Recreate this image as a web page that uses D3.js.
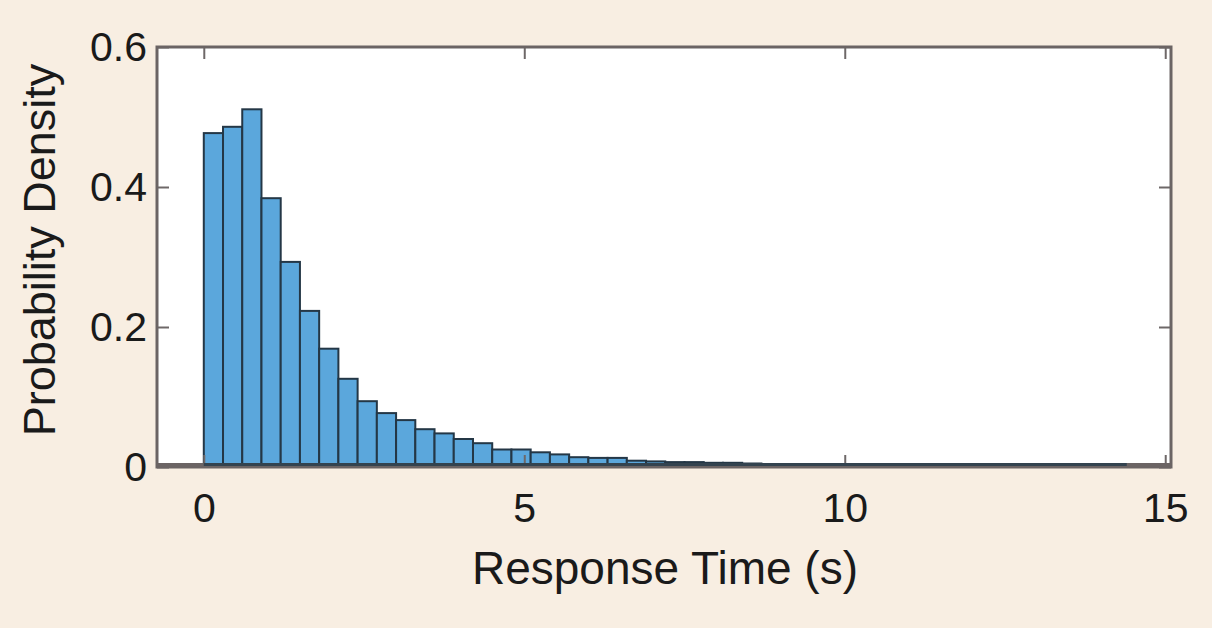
<!doctype html>
<html lang="en">
<head>
  <meta charset="UTF-8">
  <title>Response Time Histogram</title>
  <script src="https://d3js.org/d3.v7.min.js"></script>
  <style>
    body { margin: 0; background: #f8eee2; }
    text { font-family: "Liberation Sans", Arial, sans-serif; fill: #1a1a1a; }
  </style>
</head>
<body>
  <div id="myDiv"></div>
  <script type="text/javascript">
    // histogram data: bin width in seconds, density per bin
    var binWidth = 0.3;
    var densities = [0.477, 0.486, 0.511, 0.384, 0.293, 0.223, 0.169, 0.126, 0.094, 0.077,
                     0.067, 0.054, 0.048, 0.040, 0.034, 0.025, 0.025, 0.021, 0.018, 0.014,
                     0.013, 0.013, 0.009, 0.008, 0.007, 0.007, 0.006, 0.006, 0.005, 0.004,
                     0.004, 0.003, 0.003, 0.003, 0.002, 0.002, 0.002, 0.002, 0.001, 0.001,
                     0.001, 0.001, 0.001, 0.001, 0.001, 0.001, 0.001, 0.001];
    var xTicks = [0, 5, 10, 15];
    var yTicks = [0, 0.2, 0.4, 0.6];
    var yTickLabels = ["0", "0.2", "0.4", "0.6"];

    // plot box in pixels (not named top/left: those clash with window globals)
    var plotL = 157, plotR = 1171, plotT = 47, plotB = 467;

    var xScale = d3.scaleLinear().domain([-0.73, 15.09]).range([plotL, plotR]);
    var yScale = d3.scaleLinear().domain([0, 0.6]).range([plotB, plotT]);

    var svg = d3.select("#myDiv").append("svg")
      .attr("width", 1212)
      .attr("height", 628);

    svg.append("rect")
      .attr("width", 1212).attr("height", 628)
      .attr("fill", "#f8eee2");

    // white plot area
    svg.append("rect")
      .attr("x", plotL).attr("y", plotT)
      .attr("width", plotR - plotL).attr("height", plotB - plotT)
      .attr("fill", "#ffffff");

    // bars
    svg.selectAll("rect.bar")
      .data(densities)
      .enter()
      .append("rect")
        .attr("class", "bar")
        .attr("x", function(d, i) { return xScale(i * binWidth); })
        .attr("y", function(d) { return yScale(d); })
        .attr("width", function(d, i) { return xScale((i + 1) * binWidth) - xScale(i * binWidth); })
        .attr("height", function(d) { return plotB - yScale(d); })
        .attr("fill", "#5ba7dc")
        .attr("stroke", "#243746")
        .attr("stroke-width", 2);

    // axes: bottom/left with labels, top/right just ticks
    var xAxis = d3.axisBottom(xScale).tickValues(xTicks).tickSizeInner(-12).tickSizeOuter(0).tickPadding(26);
    var yAxis = d3.axisLeft(yScale).tickValues(yTicks).tickSizeInner(-12).tickSizeOuter(0).tickPadding(10)
      .tickFormat(function(d, i) { return yTickLabels[i]; });
    var xTop = d3.axisTop(xScale).tickValues(xTicks).tickSizeInner(-12).tickSizeOuter(0).tickFormat("");
    var yRight = d3.axisRight(yScale).tickValues(yTicks).tickSizeInner(-12).tickSizeOuter(0).tickFormat("");

    function styleAxis(g) {
      g.select(".domain").remove();
      g.selectAll(".tick line").attr("stroke", "#6e6868").attr("stroke-width", 2);
      g.selectAll(".tick text").attr("font-size", 41).attr("fill", "#1a1a1a")
        .attr("font-family", "'Liberation Sans', Arial, sans-serif");
    }

    svg.append("g").attr("transform", "translate(0," + plotB + ")").call(xAxis).call(styleAxis);
    svg.append("g").attr("transform", "translate(" + plotL + ",0)").call(yAxis).call(styleAxis);
    svg.append("g").attr("transform", "translate(0," + plotT + ")").call(xTop).call(styleAxis);
    svg.append("g").attr("transform", "translate(" + plotR + ",0)").call(yRight).call(styleAxis);

    // frame
    svg.append("rect")
      .attr("x", plotL).attr("y", plotT)
      .attr("width", plotR - plotL).attr("height", plotB - plotT)
      .attr("fill", "none")
      .attr("stroke", "#6b6464")
      .attr("stroke-width", 3);

    // heavier baseline, darker where the bar outlines sit on it
    svg.append("line")
      .attr("x1", plotL).attr("x2", plotR)
      .attr("y1", plotB - 1.5).attr("y2", plotB - 1.5)
      .attr("stroke", "#6b6464").attr("stroke-width", 5);
    svg.append("line")
      .attr("x1", xScale(0)).attr("x2", xScale(densities.length * binWidth))
      .attr("y1", plotB - 2.5).attr("y2", plotB - 2.5)
      .attr("stroke", "#33434f").attr("stroke-width", 3);

    // axis titles
    svg.append("text")
      .attr("x", 665).attr("y", 584)
      .attr("text-anchor", "middle")
      .attr("font-size", 46)
      .text("Response Time (s)");

    svg.append("text")
      .attr("transform", "translate(55,250) rotate(-90)")
      .attr("text-anchor", "middle")
      .attr("font-size", 45)
      .text("Probability Density");
  </script>
</body>
</html>
